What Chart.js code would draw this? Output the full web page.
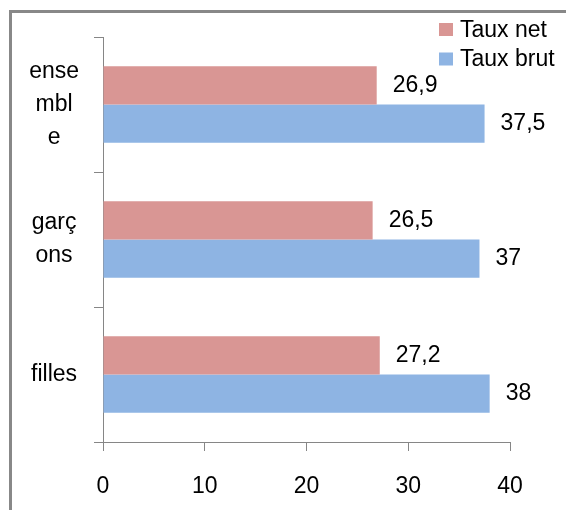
<!DOCTYPE html>
<html><head><meta charset="utf-8">
<script src="https://cdn.jsdelivr.net/npm/chart.js@4"></script>
<style>html,body{margin:0;padding:0;background:#fff;}#wrap{width:566px;height:510px;position:relative;}</style>
</head><body><div id="wrap"><canvas id="c" width="566" height="510"></canvas></div>
<script>
const categories = [['ense','mbl','e'], ['garç','ons'], ['filles']];
const seriesNames = ['Taux net', 'Taux brut'];
const tauxNet = [26.9, 26.5, 27.2];
const tauxBrut = [37.5, 37, 38];
const xMin = 0, xMax = 40, xStep = 10;

const FONT = '"Liberation Sans", Arial, sans-serif';
const AXIS = '#868686';
const COLORS = ['#D99694', '#8EB4E3'];

const framePlugin = {
  id: 'frame',
  beforeDraw(chart) {
    const ctx = chart.ctx;
    ctx.save();
    ctx.fillStyle = '#fff';
    ctx.fillRect(0, 0, chart.width, chart.height);
    ctx.fillStyle = '#888888';
    ctx.fillRect(9, 10, chart.width - 9, 3);
    ctx.fillRect(9, 10, 3, chart.height - 10);
    ctx.restore();
  }
};

const valueLabels = {
  id: 'valueLabels',
  afterDatasetsDraw(chart) {
    const ctx = chart.ctx;
    ctx.save();
    ctx.font = '23px ' + FONT;
    ctx.fillStyle = '#000';
    ctx.textBaseline = 'middle';
    ctx.textAlign = 'left';
    chart.data.datasets.forEach((ds, i) => {
      chart.getDatasetMeta(i).data.forEach((bar, j) => {
        ctx.fillText(String(ds.data[j]).replace('.', ','), bar.x + 16, bar.y);
      });
    });
    ctx.restore();
  }
};

const legendPlugin = {
  id: 'customLegend',
  afterDraw(chart) {
    const ctx = chart.ctx;
    ctx.save();
    ctx.font = '23px ' + FONT;
    ctx.textBaseline = 'alphabetic';
    ctx.textAlign = 'left';
    chart.data.datasets.forEach((ds, i) => {
      const top = 23 + i * 29.5;
      ctx.fillStyle = ds.backgroundColor;
      ctx.fillRect(439, top, 14, 13);
      ctx.fillStyle = '#000';
      ctx.fillText(ds.label, 460, top + 13.5);
    });
    ctx.restore();
  }
};

new Chart(document.getElementById('c'), {
  type: 'bar',
  data: {
    labels: categories,
    datasets: [
      { label: seriesNames[0], data: tauxNet, backgroundColor: COLORS[0], categoryPercentage: 0.565, barPercentage: 1.0 },
      { label: seriesNames[1], data: tauxBrut, backgroundColor: COLORS[1], categoryPercentage: 0.565, barPercentage: 1.0 }
    ]
  },
  options: {
    indexAxis: 'y',
    responsive: false,
    animation: false,
    devicePixelRatio: 1,
    layout: { padding: { top: 37, right: 56, left: 0, bottom: 0 } },
    plugins: { legend: { display: false }, tooltip: { enabled: false } },
    scales: {
      x: {
        type: 'linear', position: 'bottom', min: xMin, max: xMax,
        ticks: { stepSize: xStep, color: '#000', font: { family: FONT, size: 23 }, padding: 22, maxRotation: 0 },
        grid: { drawOnChartArea: false, drawTicks: true, tickLength: 9, color: AXIS, lineWidth: 1 },
        border: { display: true, color: AXIS, width: 1 },
        afterFit(scale) { scale.height = 68; }
      },
      y: {
        position: 'left',
        ticks: { color: '#000', font: { family: FONT, size: 23, lineHeight: 1.44 }, padding: 15, crossAlign: 'center', autoSkip: false },
        grid: { drawOnChartArea: false, drawTicks: true, tickLength: 9, color: AXIS, lineWidth: 1, offset: true },
        border: { display: true, color: AXIS, width: 1 },
        afterFit(scale) { scale.width = 103; }
      }
    }
  },
  plugins: [framePlugin, valueLabels, legendPlugin]
});
</script>
</body></html>
